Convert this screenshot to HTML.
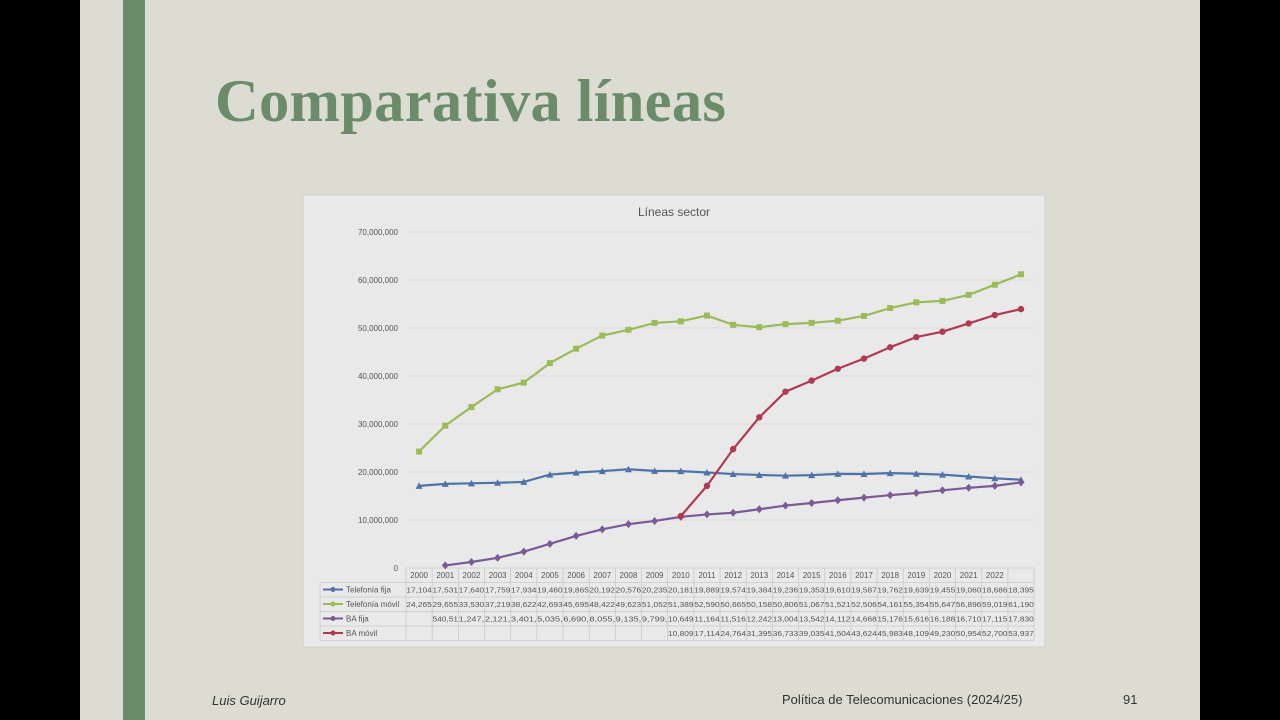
<!DOCTYPE html>
<html><head><meta charset="utf-8"><style>
body{margin:0;width:1280px;height:720px;background:#000;overflow:hidden;font-family:"Liberation Sans",sans-serif}
#slide{position:absolute;left:80px;top:0;width:1120px;height:720px;background:#dcdcd2}
</style></head><body>
<div id="slide">
<div style="position:absolute;left:43px;top:0;width:22px;height:720px;background:#6b8c68"></div>
<div style="position:absolute;left:135px;top:67px;font-family:'Liberation Serif',serif;font-weight:bold;font-size:60.5px;letter-spacing:0.3px;color:#6b8c68">Comparativa líneas</div>
<div style="position:absolute;left:132px;top:693px;font-size:13px;font-style:italic;color:#333">Luis Guijarro</div>
<div style="position:absolute;left:702px;top:692px;font-size:13px;color:#333">Política de Telecomunicaciones (2024/25)</div>
<div style="position:absolute;left:1043px;top:692px;font-size:13px;color:#333">91</div>
</div>
<svg id="chart" width="1280" height="720" style="position:absolute;left:0;top:0" font-family="Liberation Sans, sans-serif"></svg>
<script>
const years=["2000","2001","2002","2003","2004","2005","2006","2007","2008","2009","2010","2011","2012","2013","2014","2015","2016","2017","2018","2019","2020","2021","2022",""];
const seriesNames=["Telefonía fija","Telefonía móvil","BA fija","BA móvil"];
const fija=[17104,17531,17640,17759,17934,19460,19865,20192,20576,20235,20181,19889,19574,19384,19236,19353,19610,19587,19762,19639,19455,19060,18686,18395];
const movil=[24265,29655,33530,37219,38622,42693,45695,48422,49623,51052,51389,52590,50665,50158,50806,51067,51521,52506,54161,55354,55647,56896,59019,61190];
const bafija=[null,540.51,1247,2121,3401,5035,6690,8055,9135,9799,10649,11164,11516,12242,13004,13542,14112,14668,15176,15616,16188,16710,17115,17830];
const bamovil=[null,null,null,null,null,null,null,null,null,null,10809,17114,24764,31395,36733,39035,41504,43624,45983,48109,49230,50954,52700,53937];
const yTicks=[0,10,20,30,40,50,60,70];
const tableText=[
["17,104","17,531","17,640","17,759","17,934","19,460","19,865","20,192","20,576","20,235","20,181","19,889","19,574","19,384","19,236","19,353","19,610","19,587","19,762","19,639","19,455","19,060","18,686","18,395"],
["24,265","29,655","33,530","37,219","38,622","42,693","45,695","48,422","49,623","51,052","51,389","52,590","50,665","50,158","50,806","51,067","51,521","52,506","54,161","55,354","55,647","56,896","59,019","61,190"],
["","540,51","1,247,","2,121,","3,401,","5,035,","6,690,","8,055,","9,135,","9,799,","10,649","11,164","11,516","12,242","13,004","13,542","14,112","14,668","15,176","15,616","16,188","16,710","17,115","17,830"],
["","","","","","","","","","","10,809","17,114","24,764","31,395","36,733","39,035","41,504","43,624","45,983","48,109","49,230","50,954","52,700","53,937"]];
const colors=["#4f73a8","#9bbb59","#7b5a98","#b03a50"];
const svg=document.getElementById('chart');const NS='http://www.w3.org/2000/svg';
function mk(t,a,p){const e=document.createElementNS(NS,t);for(const k in a)e.setAttribute(k,a[k]);(p||svg).appendChild(e);return e;}
const x0=406,cw=26.17,y0=568,ppm=4.8;
const X=i=>x0+cw*(i+0.5), Y=v=>y0-v/1000*ppm;
let e=mk('rect',{x:303,y:195,width:742,height:452,fill:'#e9e9e9',stroke:'#d0d0c8'});

e=mk('text',{x:674,y:216,'text-anchor':'middle','font-size':12,fill:'#555'});e.textContent='Líneas sector';

yTicks.forEach(t=>{const y=Y(t*1000);
 if(t>0){e=mk('line',{x1:408,x2:1034,y1:y,y2:y,stroke:'#dcdcdc'});}
 e=mk('text',{x:398,y:y+3,'text-anchor':'end','font-size':8,fill:'#555'});e.textContent=t===0?'0':t+',000,000';
 });
const tl=320,tr=x0+cw*24,rh=14.5;
for(let r=0;r<=5;r++){const y=y0+r*rh;mk('line',{x1:r==0?x0:tl,x2:tr,y1:y,y2:y,stroke:'#c8c8c8','stroke-width':0.8});}
mk('line',{x1:tl,x2:tl,y1:y0+rh,y2:y0+5*rh,stroke:'#c8c8c8','stroke-width':0.8});
for(let i=0;i<=24;i++)mk('line',{x1:x0+cw*i,x2:x0+cw*i,y1:y0,y2:y0+5*rh,stroke:'#c8c8c8','stroke-width':0.8});
years.forEach((yv,i)=>{e=mk('text',{x:X(i),y:y0+10,'text-anchor':'middle','font-size':8,fill:'#555'});e.textContent=yv;
 });
tableText.forEach((row,r)=>{row.forEach((s,i)=>{if(!s)return;e=mk('text',{x:X(i),y:y0+rh*(r+1)+10,'text-anchor':'middle','font-size':7.6,fill:'#555',textLength:25.5,lengthAdjust:'spacingAndGlyphs'});e.textContent=s;
 });
 const yy=y0+rh*(r+1)+7;mk('line',{x1:323,x2:343,y1:yy,y2:yy,stroke:colors[r],'stroke-width':2});
 mk('circle',{cx:333,cy:yy,r:2.5,fill:colors[r]});
 e=mk('text',{x:346,y:yy+3,'font-size':8,fill:'#555'});e.textContent=seriesNames[r];
 });
[fija,movil,bafija,bamovil].forEach((d,s)=>{const g=mk('g',{});
 
 let p='';d.forEach((v,i)=>{if(v==null)return;p+=(p?'L':'M')+X(i)+','+Y(v);});
 mk('path',{d:p,fill:'none',stroke:colors[s],'stroke-width':2.2},g);
 d.forEach((v,i)=>{if(v==null)return;const x=X(i),y=Y(v);let m;
  if(s==0)m=mk('polygon',{points:`${x},${y-3.5} ${x+3.5},${y+3} ${x-3.5},${y+3}`,fill:colors[s]},g);
  else if(s==1)m=mk('rect',{x:x-3,y:y-3,width:6,height:6,fill:colors[s]},g);
  else if(s==2)m=mk('polygon',{points:`${x},${y-4} ${x+3.5},${y} ${x},${y+4} ${x-3.5},${y}`,fill:colors[s]},g);
  else m=mk('circle',{cx:x,cy:y,r:3.2,fill:colors[s]},g);
  });
});
</script>
</body></html>
